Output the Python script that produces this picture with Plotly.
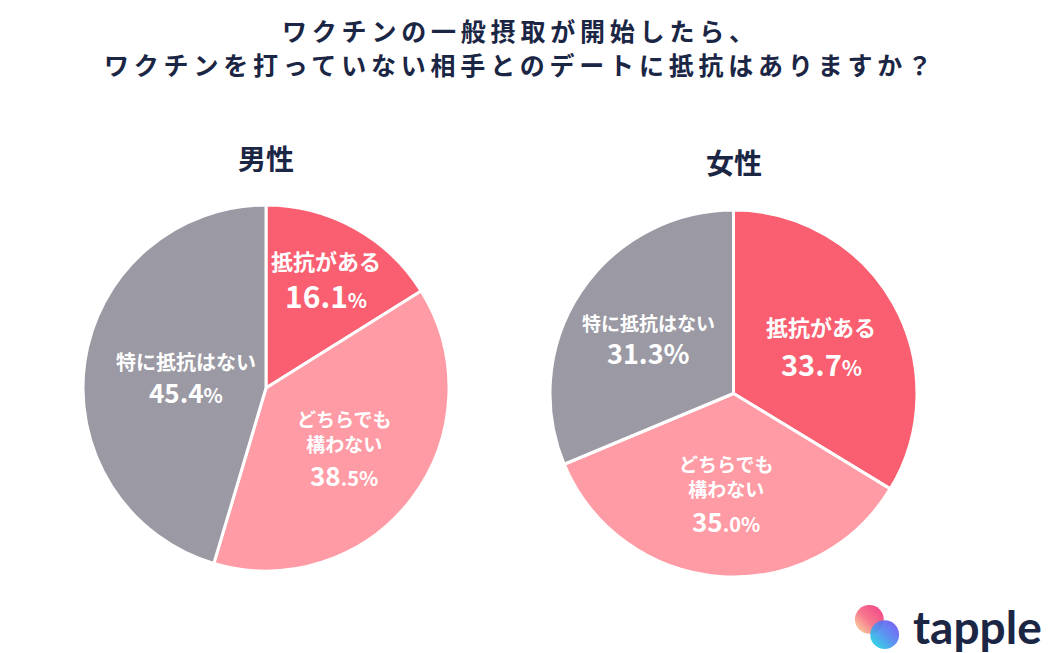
import base64
import math
import plotly.graph_objects as go

W, H = 1051, 653

# ---- data ----
categories = ["抵抗がある", "どちらでも<br>構わない", "特に抵抗はない"]
men_values = [16.1, 38.5, 45.4]
women_values = [33.7, 35.0, 31.3]
group_titles = ["男性", "女性"]
title_lines = ["ワクチンの一般摂取が開始したら、",
               "ワクチンを打っていない相手とのデートに抵抗はありますか？"]
logo_text = "tapple"

# ---- style ----
colors = ["#F95F70", "#FF9BA5", "#9B9AA4"]
navy = "#1B2645"
font_jp = "Noto Sans CJK JP"

# pie geometry in pixels (center x, center y from top, radius)
pies = [
    dict(values=men_values, cx=266, cy=388, r=183, title_y=158,
         rf=[0.68, 0.535, 0.44],
         lab_size=[22, 19, 20],
         num_big=[30, 26, 26], num_small=[20, 20, 20],
         split=[4, 2, 4],
         lab_shift=[19, 16, 15], num_shift=[-16, -27, -15]),
    dict(values=women_values, cx=733.5, cy=393.5, r=183.5, title_y=162,
         rf=[0.55, 0.535, 0.555],
         lab_size=[22, 19, 19],
         num_big=[29, 26, 27], num_small=[21, 20, 27],
         split=[4, 2, 5],
         lab_shift=[18, 15, 15], num_shift=[-19, -29, -15]),
]

fig = go.Figure()
annotations = []

for gi, p in enumerate(pies):
    cx, cy, r = p["cx"], p["cy"], p["r"]
    fig.add_trace(go.Pie(
        values=p["values"], labels=[c.replace("<br>", "") for c in categories],
        sort=False, direction="clockwise", rotation=0,
        marker=dict(colors=colors, line=dict(color="white", width=3)),
        textinfo="none", hoverinfo="label+percent", showlegend=False,
        domain=dict(x=[(cx - r) / W, (cx + r) / W],
                    y=[(H - cy - r) / H, (H - cy + r) / H]),
    ))
    annotations.append(dict(
        x=cx / W, y=(H - p["title_y"]) / H, xref="paper", yref="paper",
        text=f"<b>{group_titles[gi]}</b>", showarrow=False,
        font=dict(family=font_jp, size=28, color=navy),
        xanchor="center", yanchor="middle"))
    total = sum(p["values"])
    cum = 0
    for i, v in enumerate(p["values"]):
        mid = (cum + v / 2) / total * 2 * math.pi
        cum += v
        rr = r * p["rf"][i]
        px = cx + rr * math.sin(mid)
        py = cy - rr * math.cos(mid)
        xp, yp = px / W, (H - py) / H
        annotations.append(dict(
            x=xp, y=yp, xref="paper", yref="paper", showarrow=False,
            text=f"<b>{categories[i]}</b>", yshift=p["lab_shift"][i],
            font=dict(family=font_jp, size=p["lab_size"][i], color="white"),
            xanchor="center", yanchor="middle"))
        s = f"{v:.1f}%"
        k = p["split"][i]
        big, small = s[:k], s[k:]
        txt = f"<b><span style='font-size:{p['num_big'][i]}px'>{big}</span>"
        if small:
            txt += f"<span style='font-size:{p['num_small'][i]}px'>{small}</span>"
        txt += "</b>"
        annotations.append(dict(
            x=xp, y=yp, xref="paper", yref="paper", showarrow=False,
            text=txt, yshift=p["num_shift"][i],
            font=dict(family=font_jp, size=p["num_big"][i] - 4, color="white"),
            xanchor="center", yanchor="middle"))

# main title
for line, ypx in zip(title_lines, [30, 64]):
    annotations.append(dict(
        x=520 / W, y=(H - ypx) / H, xref="paper", yref="paper", showarrow=False,
        text=f"<b><span style='letter-spacing:4.8px'>{line}</span></b>",
        font=dict(family=font_jp, size=25, color=navy),
        xanchor="center", yanchor="middle"))

# logo text
annotations.append(dict(
    x=977 / W, y=(H - 626) / H, xref="paper", yref="paper", showarrow=False,
    text=f"<b>{logo_text}</b>", font=dict(family="Lato", size=46, color=navy),
    xanchor="center", yanchor="middle"))

svg = """<svg xmlns='http://www.w3.org/2000/svg' width='100' height='100' viewBox='0 0 100 100'>
<defs>
<linearGradient id='g1' x1='1' y1='0' x2='0' y2='1'>
<stop offset='0' stop-color='#F23C86'/><stop offset='0.55' stop-color='#F77A8E'/><stop offset='1' stop-color='#FBE6A2'/></linearGradient>
<linearGradient id='g2' x1='1' y1='0' x2='0' y2='1'>
<stop offset='0' stop-color='#7446F2'/><stop offset='0.5' stop-color='#4E8CF0'/><stop offset='1' stop-color='#12E6DC'/></linearGradient>
</defs>
<circle cx='34' cy='34' r='30' fill='url(#g1)'/>
<circle cx='66' cy='66' r='30' fill='url(#g2)' opacity='0.92'/>
</svg>"""
src = "data:image/svg+xml;base64," + base64.b64encode(svg.encode()).decode()

fig.update_layout(
    width=W, height=H, margin=dict(l=0, r=0, t=0, b=0),
    paper_bgcolor="white", plot_bgcolor="white",
    annotations=annotations,
    images=[dict(source=src, xref="paper", yref="paper",
                 x=853 / W, y=(H - 603) / H, sizex=48 / W, sizey=48 / H,
                 xanchor="left", yanchor="top", sizing="stretch", layer="above")],
)

fig.write_html("out.html", config={"displayModeBar": False},
               post_script="document.body.style.margin='0';")
